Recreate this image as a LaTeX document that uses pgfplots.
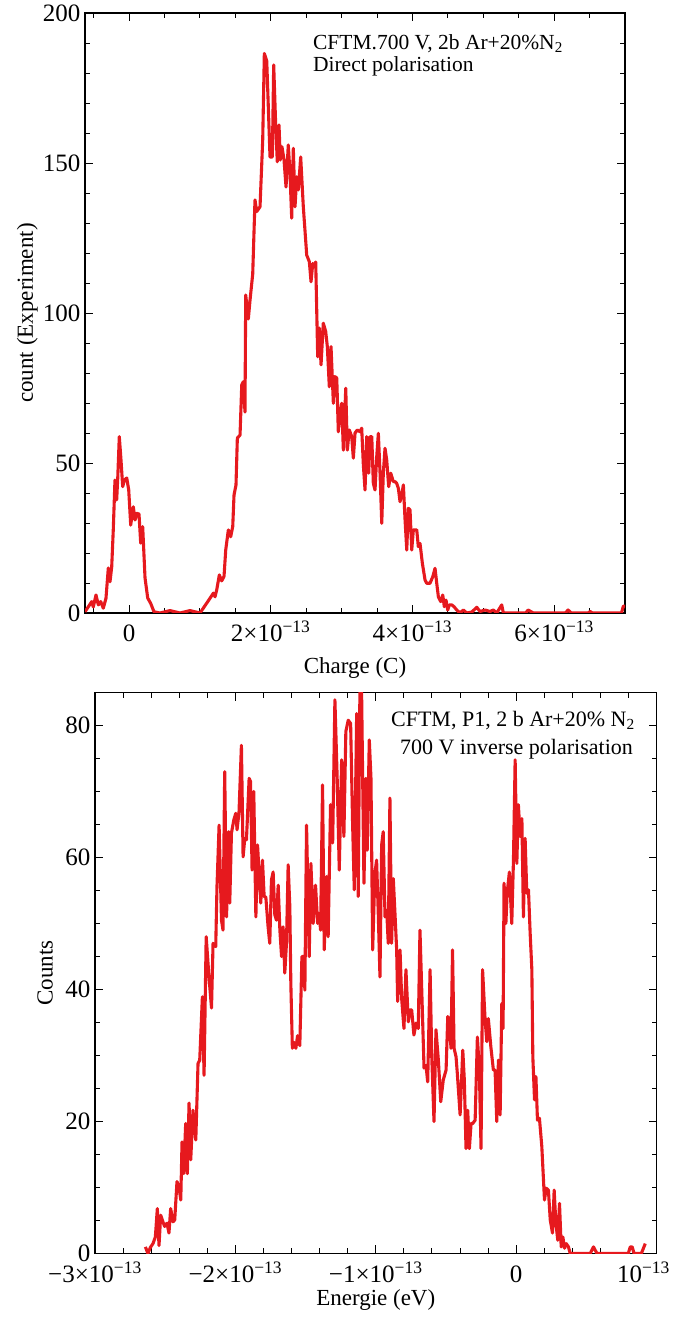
\documentclass[border=0pt]{standalone}
\usepackage{pgfplots}
\pgfplotsset{compat=1.18}
\usepackage{fontspec}
\setmainfont{Liberation Serif}
\definecolor{lred}{RGB}{230,25,30}
\pgfplotsset{
 myax/.style={
  scale only axis, anchor=south west,
  axis line style={line width=1.1pt, black},
  tick align=inside,
  major tick length=8pt, minor tick length=5pt,
  tick style={line width=0.9pt, black},
  font=\fontsize{23}{27}\selectfont,
  /pgf/number format/assume math mode=true,
  xticklabel style={anchor=base, yshift=-29pt, font=\fontsize{25}{28}\selectfont},
  yticklabel style={anchor=east, xshift=-1pt, font=\fontsize{25}{28}\selectfont},
 },
 myline/.style={lred, line width=3.1pt, line join=round, mark=none},
}
\pgfplotstableread{
x y
-0.621 0.4
-0.526 3.8
-0.504 2.0
-0.466 6.0
-0.433 2.7
-0.399 3.8
-0.363 1.6
-0.325 4.9
-0.292 15.0
-0.268 10.4
-0.244 15.4
-0.222 27.7
-0.198 44.3
-0.174 37.7
-0.159 44.9
-0.137 58.8
-0.113 51.0
-0.089 42.1
-0.066 44.3
-0.032 45.0
-0.004 41.0
0.024 29.3
0.061 35.4
0.085 31.0
0.109 33.2
0.141 33.0
0.165 23.3
0.193 28.8
0.226 11.7
0.264 5.0
0.306 3.2
0.353 0.4
0.438 0
0.579 0.8
0.720 0
0.861 0.8
1.002 0
1.097 3.3
1.143 4.9
1.190 6.6
1.214 5.4
1.238 7.7
1.275 12.7
1.308 10.7
1.341 12.2
1.365 21.0
1.402 27.7
1.435 25.4
1.464 28.8
1.482 39.3
1.510 42.7
1.529 58.3
1.567 59.3
1.591 76.0
1.613 77.1
1.637 67.0
1.647 106.0
1.684 98.0
1.708 104.3
1.746 113.0
1.778 137.7
1.802 133.8
1.849 135.4
1.887 157.7
1.910 186.5
1.944 184.0
1.966 168.8
1.990 152.0
2.023 152.0
2.042 182.7
2.071 162.0
2.093 150.4
2.117 162.7
2.135 151.0
2.159 155.4
2.188 151.0
2.216 142.0
2.248 156.0
2.272 146.6
2.296 131.6
2.319 154.9
2.343 135.4
2.367 145.4
2.390 141.0
2.423 152.0
2.460 135.4
2.508 119.3
2.545 117.1
2.569 110.4
2.593 116.5
2.611 115.4
2.635 117.0
2.663 85.4
2.686 95.0
2.710 82.7
2.742 96.6
2.776 93.8
2.799 88.8
2.827 75.4
2.851 88.8
2.884 69.9
2.908 78.8
2.932 78.3
2.954 60.4
2.978 66.6
3.002 69.9
3.025 54.3
3.059 74.9
3.081 54.3
3.109 61.0
3.143 58.8
3.166 51.6
3.190 60.0
3.222 61.0
3.260 60.4
3.284 61.6
3.307 49.5
3.331 41.0
3.355 58.8
3.383 46.6
3.402 58.8
3.426 58.8
3.448 43.2
3.472 41.0
3.496 52.1
3.519 59.9
3.543 46.6
3.567 29.9
3.589 46.6
3.613 54.9
3.637 51.0
3.665 42.1
3.694 46.6
3.730 43.8
3.754 43.8
3.778 43.2
3.801 41.6
3.825 37.1
3.849 39.3
3.872 42.7
3.896 31.0
3.920 21.0
3.942 34.9
3.966 34.4
3.990 21.0
4.013 27.7
4.061 27.7
4.083 22.1
4.107 23.2
4.140 16.6
4.178 11.0
4.202 9.9
4.248 9.9
4.287 12.1
4.319 14.9
4.343 9.9
4.366 5.4
4.399 3.8
4.428 6.0
4.450 2.1
4.474 4.3
4.498 1.0
4.521 2.7
4.555 2.7
4.587 2.1
4.625 1.0
4.672 0
4.718 1.0
4.766 0
4.837 0.3
4.908 1.9
4.954 0.5
5.025 1.0
5.095 0.5
5.142 1.0
5.190 0
5.260 2.7
5.283 0
5.600 0
5.632 1.0
5.706 0
6.160 0
6.196 1.0
6.239 0
6.480 0
6.507 0.5
6.540 0
6.950 0
6.977 2.3
7.000 2.3
}\charge
\pgfplotstableread{
x y
-2.641 1.0
-2.623 0
-2.606 0.9
-2.587 1.5
-2.570 2.5
-2.556 6.8
-2.544 1.2
-2.532 5.8
-2.516 4.8
-2.504 4.1
-2.487 4.6
-2.473 3.1
-2.461 6.8
-2.444 4.8
-2.432 5.1
-2.416 10.9
-2.402 10.1
-2.389 8.1
-2.380 16.9
-2.368 12.1
-2.354 19.7
-2.342 12.1
-2.330 22.8
-2.318 14.2
-2.302 21.7
-2.282 17.2
-2.266 28.8
-2.254 29.3
-2.235 38.9
-2.223 27.0
-2.208 48.0
-2.188 41.9
-2.170 37.2
-2.159 47.0
-2.140 46.5
-2.131 55.6
-2.116 64.9
-2.099 50.5
-2.088 49.0
-2.076 73.0
-2.063 51.0
-2.047 63.9
-2.040 53.1
-2.028 63.7
-2.011 65.7
-1.997 66.7
-1.988 64.2
-1.974 66.9
-1.957 77.0
-1.945 60.1
-1.933 62.9
-1.921 62.7
-1.902 72.0
-1.892 71.5
-1.881 58.1
-1.869 70.0
-1.854 51.0
-1.842 61.9
-1.831 57.6
-1.819 53.1
-1.807 59.6
-1.795 54.1
-1.783 54.0
-1.767 49.5
-1.755 47.0
-1.743 56.6
-1.731 57.8
-1.719 51.3
-1.707 50.5
-1.695 55.8
-1.683 49.0
-1.671 45.0
-1.660 49.5
-1.648 42.5
-1.636 47.0
-1.624 58.9
-1.612 52.5
-1.605 41.0
-1.594 31.1
-1.583 32.0
-1.569 31.1
-1.557 33.0
-1.541 31.5
-1.526 45.0
-1.512 45.0
-1.505 39.9
-1.493 64.9
-1.474 45.0
-1.462 59.1
-1.446 50.0
-1.429 55.8
-1.414 50.0
-1.403 51.5
-1.393 49.0
-1.379 71.0
-1.367 46.0
-1.350 57.1
-1.339 48.0
-1.322 68.0
-1.307 62.2
-1.291 83.9
-1.275 72.2
-1.260 58.1
-1.243 74.8
-1.227 63.2
-1.213 79.1
-1.196 80.8
-1.179 80.3
-1.165 65.2
-1.153 55.1
-1.136 81.8
-1.125 54.1
-1.113 84.9
-1.101 85.4
-1.084 56.1
-1.070 72.0
-1.061 61.1
-1.046 77.8
-1.034 72.0
-1.022 46.0
-1.006 57.6
-0.994 59.6
-0.982 51.5
-0.970 41.9
-0.958 61.9
-0.947 63.9
-0.934 51.0
-0.922 52.0
-0.911 47.0
-0.899 69.0
-0.887 47.0
-0.875 56.8
-0.863 51.5
-0.851 46.0
-0.844 38.2
-0.827 46.0
-0.815 38.5
-0.799 34.1
-0.785 43.0
-0.768 35.1
-0.756 36.9
-0.744 36.9
-0.728 33.1
-0.713 34.9
-0.697 34.1
-0.685 49.0
-0.673 40.4
-0.656 28.1
-0.642 28.5
-0.630 26.0
-0.613 43.0
-0.601 29.8
-0.585 20.0
-0.571 33.9
-0.554 29.3
-0.537 23.0
-0.519 26.3
-0.499 27.8
-0.487 35.9
-0.476 35.3
-0.464 31.1
-0.453 46.0
-0.442 31.1
-0.428 29.8
-0.419 27.3
-0.399 21.0
-0.380 30.8
-0.369 26.3
-0.357 15.9
-0.345 21.7
-0.333 15.9
-0.321 19.7
-0.309 19.7
-0.292 20.2
-0.276 32.8
-0.262 27.8
-0.250 15.9
-0.239 43.0
-0.221 35.4
-0.209 32.1
-0.198 35.6
-0.180 31.3
-0.162 27.8
-0.150 27.8
-0.138 20.0
-0.126 29.3
-0.114 21.0
-0.102 37.9
-0.093 34.1
-0.086 56.1
-0.073 50.0
-0.064 54.6
-0.048 57.8
-0.031 50.0
-0.019 59.6
-0.007 74.8
0.005 59.1
0.016 68.0
0.029 63.2
0.041 65.9
0.052 51.0
0.064 62.9
0.076 54.6
0.088 55.1
0.100 48.5
0.112 43.0
0.119 29.8
0.131 23.3
0.141 26.8
0.152 20.2
0.166 20.5
0.183 16.2
0.202 8.1
0.214 9.9
0.230 9.6
0.243 5.1
0.259 3.1
0.271 9.6
0.283 4.6
0.297 2.0
0.309 7.6
0.321 1.0
0.333 2.5
0.345 0.8
0.357 1.5
0.373 1.0
0.385 0
0.528 0
0.551 1.0
0.576 0
0.799 0
0.813 1.0
0.827 1.0
0.840 0
0.892 0
0.920 1.5
}\energy
\begin{document}
\begin{tikzpicture}
\useasboundingbox (0pt,0pt) rectangle (678pt,1317pt);
% top panel
\begin{axis}[myax,
  at={(85pt,704pt)}, width=540pt, height=600pt,
  xmin=-0.621, xmax=7.0, ymin=0, ymax=200,
  xtick={0,2,4,6},
  xticklabels={0, 2×10\textsuperscript{−13}, 4×10\textsuperscript{−13}, 6×10\textsuperscript{−13}},
  minor xtick={-0.5,0.5,1,1.5,2.5,3,3.5,4.5,5,5.5,6.5},
  ytick={0,50,100,150,200}, minor y tick num=4,
  xlabel={Charge (C)}, ylabel={count (Experiment)},
  xlabel style={at={(axis description cs:0.5,0)}, anchor=base, yshift=-61pt},
  ylabel style={at={(axis description cs:-0.107,0.5)}, anchor=center, rotate=0},
]
\addplot[myline] table[x=x,y=y] {\charge};
\node[anchor=base west, inner sep=0pt, font=\fontsize{21.5}{24}\selectfont] at (rel axis cs:0.422,0.9395) {CFTM.700 V, 2b Ar+20\%N\textsubscript{2}};
\node[anchor=base west, inner sep=0pt, font=\fontsize{21.5}{24}\selectfont] at (rel axis cs:0.422,0.902) {Direct polarisation};
\end{axis}
% bottom panel
\begin{axis}[myax,
  at={(95pt,63.5pt)}, width=561.5pt, height=561pt,
  xmin=-3, xmax=1, ymin=0, ymax=85,
  xtick={-3,-2,-1,0,1},
  xticklabels={−3×10\textsuperscript{−13}, −2×10\textsuperscript{−13}, −1×10\textsuperscript{−13}, 0, \kern-26pt10\textsuperscript{−13}},
  minor x tick num=4,
  ytick={0,20,40,60,80}, minor y tick num=3,
  xlabel={Energie (eV)}, ylabel={Counts},
  xlabel style={at={(axis description cs:0.5,0)}, anchor=base, yshift=-52pt},
  ylabel style={at={(axis description cs:-0.089,0.5)}, anchor=center, rotate=0},
]
\addplot[myline] table[x=x,y=y] {\energy};
\node[anchor=base, inner sep=0pt, font=\fontsize{22}{24}\selectfont] at (rel axis cs:0.7444,0.939) {CFTM, P1, 2 b Ar+20\% N\textsubscript{2}};
\node[anchor=base, inner sep=0pt, font=\fontsize{22}{24}\selectfont] at (rel axis cs:0.7506,0.890) {700 V inverse polarisation};
\end{axis}
\end{tikzpicture}
\end{document}
